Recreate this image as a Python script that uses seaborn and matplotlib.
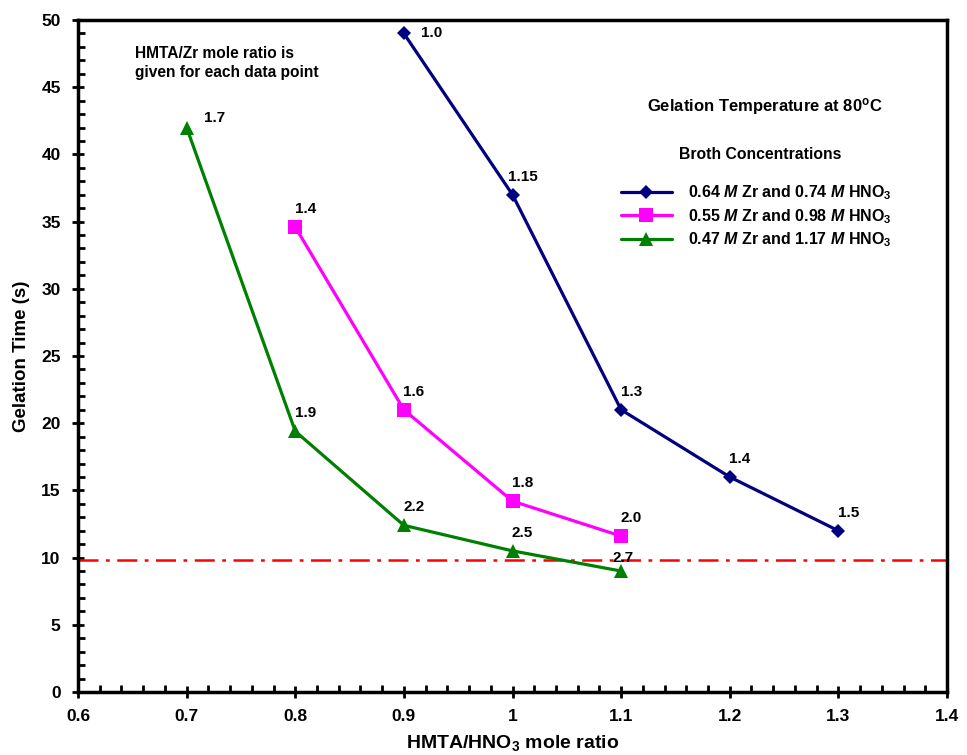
import pandas as pd
import matplotlib.pyplot as plt
import seaborn as sns
from matplotlib.ticker import MultipleLocator

# data
x_zr064 = [0.9, 1.0, 1.1, 1.2, 1.3]
y_zr064 = [49.0, 37.0, 21.0, 16.0, 12.0]
lab_zr064 = ["1.0", "1.15", "1.3", "1.4", "1.5"]

x_zr055 = [0.8, 0.9, 1.0, 1.1]
y_zr055 = [34.6, 21.0, 14.2, 11.6]
lab_zr055 = ["1.4", "1.6", "1.8", "2.0"]

x_zr047 = [0.7, 0.8, 0.9, 1.0, 1.1]
y_zr047 = [42.0, 19.4, 12.4, 10.5, 9.0]
lab_zr047 = ["1.7", "1.9", "2.2", "2.5", "2.7"]

limit_time = 9.8

names = [r"0.64 $\mathit{M}$ Zr and 0.74 $\mathit{M}$ HNO$_3$",
         r"0.55 $\mathit{M}$ Zr and 0.98 $\mathit{M}$ HNO$_3$",
         r"0.47 $\mathit{M}$ Zr and 1.17 $\mathit{M}$ HNO$_3$"]

sns.set_style("ticks")
plt.rcParams['font.family'] = ['Liberation Sans', 'DejaVu Sans']
plt.rcParams['font.weight'] = 'bold'
plt.rcParams['text.color'] = 'black'
plt.rcParams['axes.labelcolor'] = 'black'
plt.rcParams['xtick.color'] = 'black'
plt.rcParams['ytick.color'] = 'black'
plt.rcParams['mathtext.fontset'] = 'custom'
plt.rcParams['mathtext.rm'] = 'Liberation Sans:bold'
plt.rcParams['mathtext.bf'] = 'Liberation Sans:bold'
plt.rcParams['mathtext.it'] = 'Liberation Sans:italic:bold'
plt.rcParams['mathtext.default'] = 'bf'

df = pd.concat([
    pd.DataFrame({"ratio": x_zr064, "time": y_zr064, "series": names[0]}),
    pd.DataFrame({"ratio": x_zr055, "time": y_zr055, "series": names[1]}),
    pd.DataFrame({"ratio": x_zr047, "time": y_zr047, "series": names[2]}),
])

fig = plt.figure(figsize=(9.67, 7.55), dpi=100)
ax = fig.add_axes([78 / 967, 63 / 755, 869 / 967, 672 / 755])

colors = ["#000080", "#FF00FF", "#008000"]
sns.lineplot(data=df, x="ratio", y="time", hue="series", style="series",
             hue_order=names, style_order=names, palette=colors,
             markers=["D", "s", "^"], dashes=False, linewidth=2.3,
             markeredgewidth=0, ax=ax)

msizes = [7.5, 10, 10]
for line, ms in zip(ax.lines, msizes):
    line.set_markersize(ms)

ax.axhline(limit_time, color="red", lw=1.8, ls=(0, (8, 3, 1.5, 3)), zorder=1)

# point labels
for xs, ys, labs in [(x_zr064, y_zr064, lab_zr064),
                     (x_zr055, y_zr055, lab_zr055),
                     (x_zr047, y_zr047, lab_zr047)]:
    for i, (x, y, t) in enumerate(zip(xs, ys, labs)):
        if i == 0 and t in ("1.0", "1.7"):
            off, ha = (17, 0 if t == "1.0" else 10), "left"
        elif t == "2.7":
            off, ha = (2, 13), "center"
        else:
            off, ha = (10, 18), "center"
        ax.annotate(t, (x, y), xytext=off, textcoords="offset pixels",
                    ha=ha, va="center", fontsize=11, fontweight="bold")

ax.set_xlim(0.6, 1.4)
ax.set_ylim(0, 50)
ax.xaxis.set_minor_locator(MultipleLocator(0.02))
ax.yaxis.set_major_locator(MultipleLocator(5))
ax.yaxis.set_minor_locator(MultipleLocator(1))
ax.set_xticks([0.6, 0.7, 0.8, 0.9, 1.0, 1.1, 1.2, 1.3, 1.4])
ax.set_xticklabels(["0.6", "0.7", "0.8", "0.9", "1", "1.1", "1.2", "1.3", "1.4"])
ax.tick_params(which="major", direction="inout", length=9, width=2, labelsize=12.5, pad=8)
ax.tick_params(which="minor", direction="in", length=5, width=2)
for s in ax.spines.values():
    s.set_linewidth(2.5)
    s.set_color("black")

ax.set_xlabel(r"HMTA/HNO$_3$ mole ratio", fontsize=14, fontweight="bold", labelpad=6)
ax.set_ylabel("Gelation Time (s)", fontsize=13.5, fontweight="bold", labelpad=8)

ax.text(0.066, 0.962, "HMTA/Zr mole ratio is\ngiven for each data point",
        transform=ax.transAxes, ha="left", va="top", fontsize=11.2,
        fontweight="bold", linespacing=1.4)
ax.text(0.79, 0.872, r"Gelation Temperature at 80$^\mathrm{o}$C",
        transform=ax.transAxes, ha="center", va="center", fontsize=12, fontweight="bold")
ax.text(0.785, 0.80, "Broth Concentrations",
        transform=ax.transAxes, ha="center", va="center", fontsize=11.3, fontweight="bold")

leg = ax.legend(loc="upper left", bbox_to_anchor=(0.608, 0.778), frameon=False,
                fontsize=11.5, handlelength=3.2, handletextpad=1.0,
                labelspacing=0.3, title=None)
for h, ms in zip(leg.get_lines(), msizes):
    h.set_markersize(ms)
    h.set_markeredgewidth(0)

plt.savefig("out.png", dpi=100)
